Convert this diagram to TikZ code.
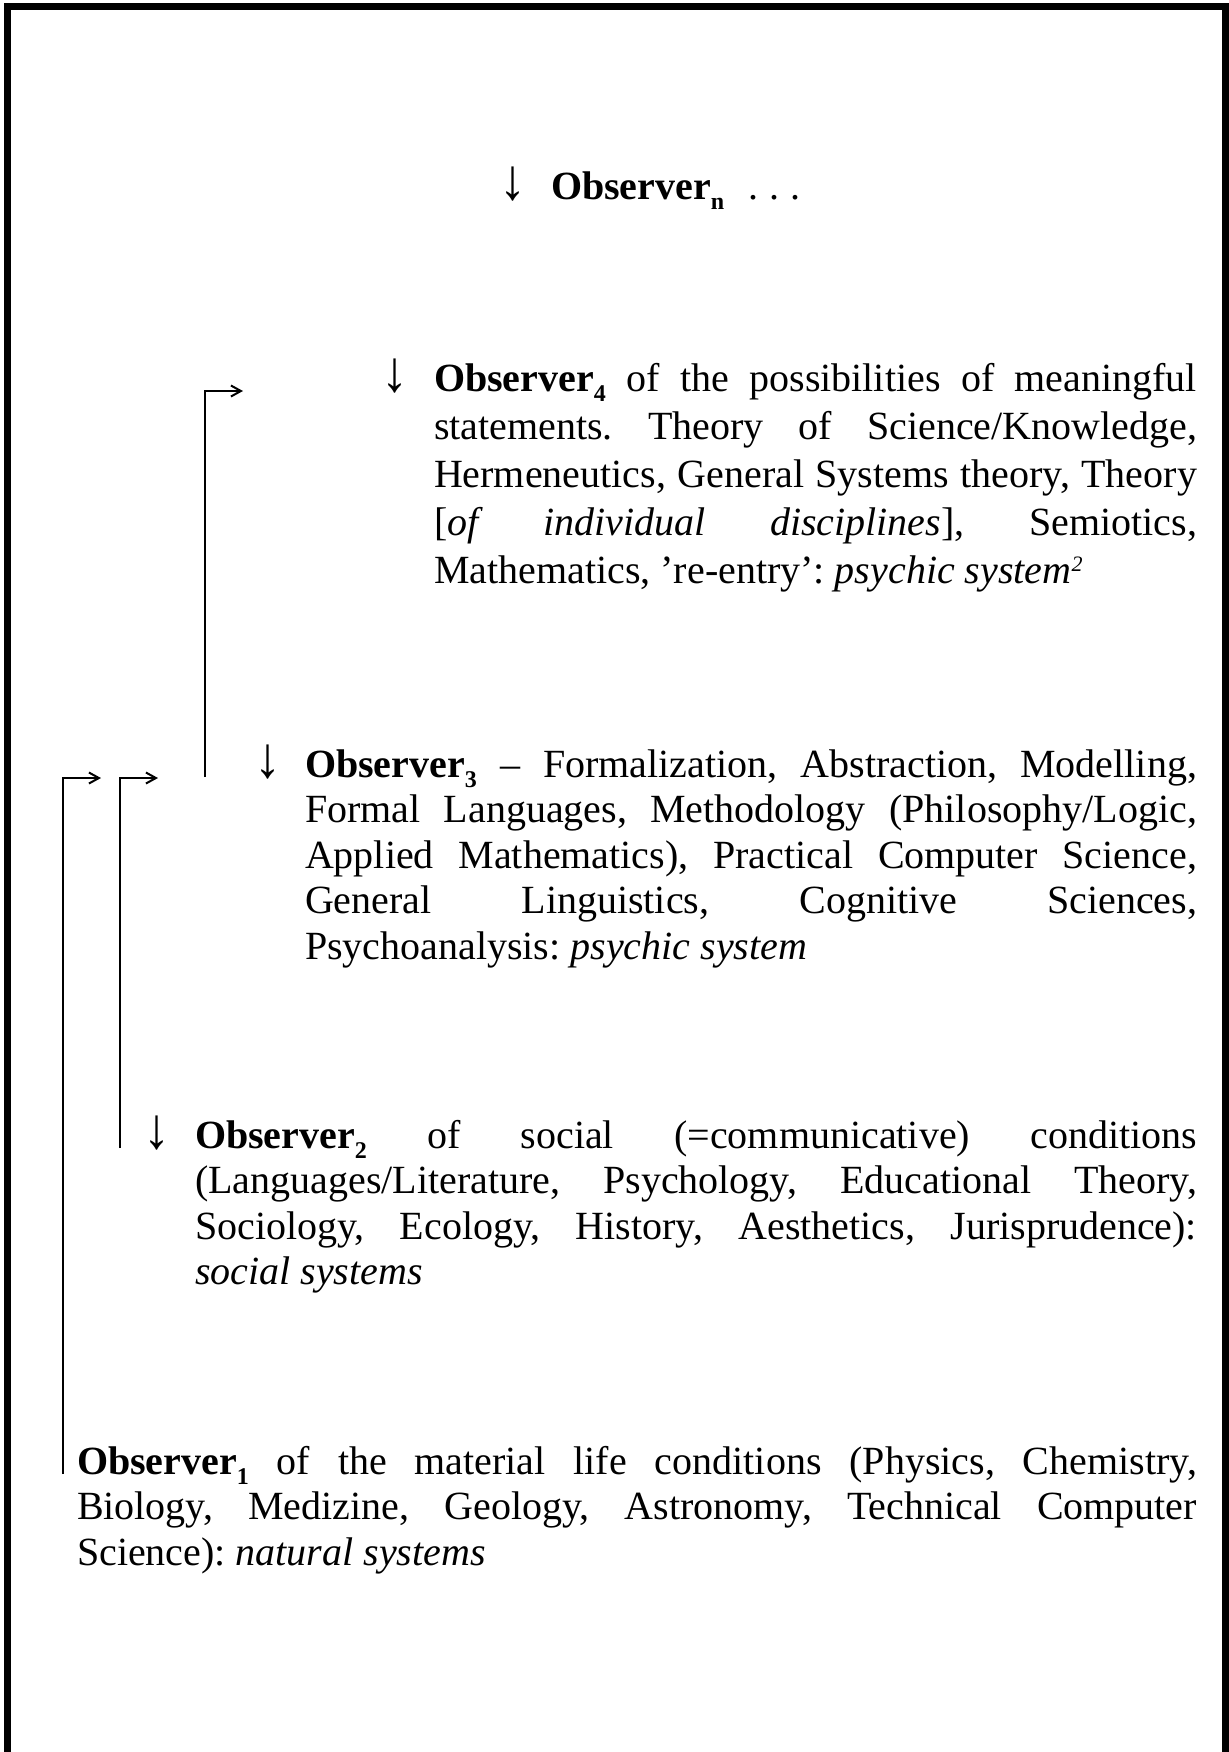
\documentclass[tikz,border=0pt]{standalone}
\usepackage{fontspec}
\setmainfont{Liberation Serif}
\usetikzlibrary{arrows.meta}
\newcommand{\jline}[1]{\makebox[\linewidth][s]{#1}}
\newcommand{\osub}[1]{\raisebox{-5pt}{\fontsize{12pt}{12pt}\selectfont\bfseries #1}}
\newcommand{\osup}[1]{\raisebox{6pt}{\fontsize{11pt}{11pt}\selectfont\itshape #1}}
\newcommand{\darr}{\scalebox{1.35}[1.45]{↓}}
\frenchspacing
\begin{document}
\begin{tikzpicture}[x=0.5pt,y=-0.5pt,
  every node/.style={inner sep=0pt, outer sep=0pt, font=\fontsize{20pt}{22.75pt}\selectfont},
  conn/.style={line width=1pt, -{Straight Barb[length=5pt,width=5.5pt]}},
  frame/.style={line width=3.5pt},
  darrow/.style={anchor=base}]
\useasboundingbox (0,0) rectangle (1228,1752);
% frame (no bottom edge)
\draw[frame] (7,1760) -- (7,6.5) -- (1225,6.5) -- (1225,1760);

% Observer n
\node[darrow] (an) at (513,199) {\darr};
\node[anchor=base west] (on) at (551,199) {\textbf{Observer}\osub{n}\hspace{12pt}.\hspace{5.5pt}.\hspace{5.5pt}.};

% Observer 4
\node[darrow] (a4) at (395,391) {\darr};
\node[anchor=base west] (o4) at (434,391) {\fontsize{20pt}{24pt}\selectfont\parbox[t]{381.5pt}{%
\jline{\textbf{Observer}\osub{4} of the possibilities of meaningful}\\
\jline{statements. Theory of Science/Knowledge,}\\
\jline{Hermeneutics, General Systems theory, Theory}\\
\jline{[\textit{of individual disciplines}], Semiotics,}\\
Mathematics, 're-entry': \textit{psychic system}\osup{2}}};

% Observer 3
\node[darrow] (a3) at (267.5,777) {\darr};
\node[anchor=base west] (o3) at (305,777) {\parbox[t]{446pt}{%
\jline{\textbf{Observer}\osub{3} -- Formalization, Abstraction, Modelling,}\\
\jline{Formal Languages, Methodology (Philosophy/Logic,}\\
\jline{Applied Mathematics), Practical Computer Science,}\\
\jline{General Linguistics, Cognitive Sciences,}\\
Psychoanalysis: \textit{psychic system}}};

% Observer 2
\node[darrow] (a2) at (156.5,1148) {\darr};
\node[anchor=base west] (o2) at (195,1148) {\parbox[t]{501pt}{%
\jline{\textbf{Observer}\osub{2} of social (=communicative) conditions}\\
\jline{(Languages/Literature, Psychology, Educational Theory,}\\
\jline{Sociology, Ecology, History, Aesthetics, Jurisprudence):}\\
\textit{social systems}}};

% Observer 1
\node[anchor=base west] (o1) at (77,1474) {\parbox[t]{560pt}{%
\jline{\textbf{Observer}\osub{1} of the material life conditions (Physics, Chemistry,}\\
\jline{Biology, Medizine, Geology, Astronomy, Technical Computer}\\
Science): \textit{natural systems}}};

% connectors
\coordinate (s1) at (63,1474);
\coordinate (e1) at (101,778);
\coordinate (s2) at (120,1148);
\coordinate (e2) at (158,778);
\coordinate (s3) at (205,777);
\coordinate (e3) at (243,391);
\draw[conn] (s1) |- (e1);
\draw[conn] (s2) |- (e2);
\draw[conn] (s3) |- (e3);
\end{tikzpicture}
\end{document}
